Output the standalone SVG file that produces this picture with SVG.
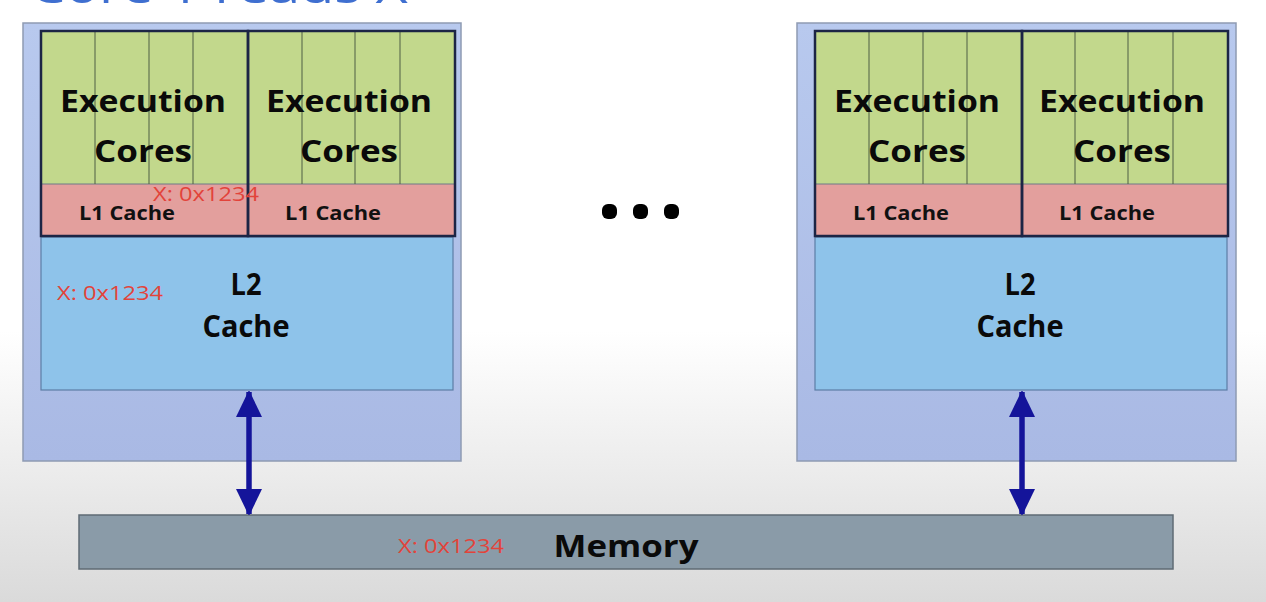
<svg xmlns="http://www.w3.org/2000/svg" width="1266" height="602" viewBox="0 0 1266 602">
<defs>
<linearGradient id="bg" x1="0" y1="0" x2="0" y2="1">
<stop offset="0" stop-color="#ffffff"/>
<stop offset="0.55" stop-color="#ffffff"/>
<stop offset="1" stop-color="#dadada"/>
</linearGradient>
<linearGradient id="chip" x1="0" y1="0" x2="0" y2="1">
<stop offset="0" stop-color="#b8c9ee"/>
<stop offset="1" stop-color="#a9b9e4"/>
</linearGradient>
<marker id="ah" viewBox="0 0 26 27" refX="25" refY="13" markerWidth="26" markerHeight="27" markerUnits="userSpaceOnUse" orient="auto-start-reverse">
<path d="M0,0 L27,13 L0,26 Z" fill="#14149a"/>
</marker>
<style>
.chip{fill:url(#chip);stroke:#8e9bb3;stroke-width:1.5}
.green{fill:#c2d88c}
.red{fill:#e39f9d}
.l2{fill:#8ec3ea;stroke:#5c7ea6;stroke-width:1.2}
.core{fill:none;stroke:#1c2545;stroke-width:2.5}
.thin{stroke:#4e5e44;stroke-width:1}
.sep{stroke:#6f7a88;stroke-width:1}
.big{font-family:'Open Sans','Liberation Sans',sans-serif;font-weight:bold;font-size:30px;fill:#0a0a0a;text-anchor:middle}
.l1t{font-family:'Open Sans','Liberation Sans',sans-serif;font-weight:bold;font-size:20px;fill:#111;text-anchor:middle}
.x{font-family:'Open Sans','Liberation Sans',sans-serif;font-size:20px;fill:#e2433a}
.conn{stroke:#14149a;stroke-width:5.5;fill:none}
.dot{fill:#000}
</style>
</defs>
<rect x="0" y="0" width="1266" height="602" fill="url(#bg)"/>
<text x="30" y="3" font-family="'Open Sans','Liberation Sans',sans-serif" font-size="44" fill="#3f6fd0" textLength="378" lengthAdjust="spacingAndGlyphs">Core 1 reads X</text>

<g id="chip1">
<rect class="chip" x="23" y="23" width="438" height="438"/>
<rect class="green" x="41" y="31" width="414" height="153"/>
<rect class="red" x="41" y="184" width="414" height="53"/>
<line class="sep" x1="41" y1="184" x2="455" y2="184"/>
<line class="thin" x1="95" y1="31" x2="95" y2="184"/>
<line class="thin" x1="149" y1="31" x2="149" y2="184"/>
<line class="thin" x1="193" y1="31" x2="193" y2="184"/>
<line class="thin" x1="302" y1="31" x2="302" y2="184"/>
<line class="thin" x1="355" y1="31" x2="355" y2="184"/>
<line class="thin" x1="400" y1="31" x2="400" y2="184"/>
<rect class="l2" x="41" y="237" width="412" height="153"/>
<rect class="core" x="41" y="31" width="207" height="205"/>
<rect class="core" x="248" y="31" width="207" height="205"/>
<text class="big" x="143" y="112" textLength="166" lengthAdjust="spacingAndGlyphs">Execution</text>
<text class="big" x="143" y="162" textLength="98" lengthAdjust="spacingAndGlyphs">Cores</text>
<text class="big" x="349" y="112" textLength="166" lengthAdjust="spacingAndGlyphs">Execution</text>
<text class="big" x="349" y="162" textLength="98" lengthAdjust="spacingAndGlyphs">Cores</text>
<text class="l1t" x="127" y="220" textLength="96" lengthAdjust="spacingAndGlyphs">L1 Cache</text>
<text class="l1t" x="333" y="220" textLength="96" lengthAdjust="spacingAndGlyphs">L1 Cache</text>
<text class="x" x="153" y="201" textLength="106" lengthAdjust="spacingAndGlyphs">X: 0x1234</text>
<text class="big" x="246" y="295" textLength="31" lengthAdjust="spacingAndGlyphs">L2</text>
<text class="big" x="246" y="337" textLength="87" lengthAdjust="spacingAndGlyphs">Cache</text>
<text class="x" x="57" y="300" textLength="106" lengthAdjust="spacingAndGlyphs">X: 0x1234</text>
</g>

<g id="chip2">
<rect class="chip" x="797" y="23" width="439" height="438"/>
<rect class="green" x="815" y="31" width="413" height="153"/>
<rect class="red" x="815" y="184" width="413" height="53"/>
<line class="sep" x1="815" y1="184" x2="1228" y2="184"/>
<line class="thin" x1="869" y1="31" x2="869" y2="184"/>
<line class="thin" x1="923" y1="31" x2="923" y2="184"/>
<line class="thin" x1="967" y1="31" x2="967" y2="184"/>
<line class="thin" x1="1075" y1="31" x2="1075" y2="184"/>
<line class="thin" x1="1128" y1="31" x2="1128" y2="184"/>
<line class="thin" x1="1173" y1="31" x2="1173" y2="184"/>
<rect class="l2" x="815" y="237" width="412" height="153"/>
<rect class="core" x="815" y="31" width="207" height="205"/>
<rect class="core" x="1022" y="31" width="206" height="205"/>
<text class="big" x="917" y="112" textLength="166" lengthAdjust="spacingAndGlyphs">Execution</text>
<text class="big" x="917" y="162" textLength="98" lengthAdjust="spacingAndGlyphs">Cores</text>
<text class="big" x="1122" y="112" textLength="166" lengthAdjust="spacingAndGlyphs">Execution</text>
<text class="big" x="1122" y="162" textLength="98" lengthAdjust="spacingAndGlyphs">Cores</text>
<text class="l1t" x="901" y="220" textLength="96" lengthAdjust="spacingAndGlyphs">L1 Cache</text>
<text class="l1t" x="1107" y="220" textLength="96" lengthAdjust="spacingAndGlyphs">L1 Cache</text>
<text class="big" x="1020" y="295" textLength="31" lengthAdjust="spacingAndGlyphs">L2</text>
<text class="big" x="1020" y="337" textLength="87" lengthAdjust="spacingAndGlyphs">Cache</text>
</g>

<g id="ellipsis">
<rect class="dot" x="602" y="204" width="15" height="15" rx="6"/>
<rect class="dot" x="633" y="204" width="15" height="15" rx="6"/>
<rect class="dot" x="664" y="204" width="15" height="15" rx="6"/>
</g>

<g id="memory">
<rect x="79" y="515" width="1094" height="54" fill="#8a9ba8" stroke="#5f6b74" stroke-width="1.5"/>
<text class="big" x="626" y="557" font-size="34" textLength="145" lengthAdjust="spacingAndGlyphs">Memory</text>
<text class="x" x="398" y="553" textLength="106" lengthAdjust="spacingAndGlyphs">X: 0x1234</text>
</g>

<g id="connectors">
<line class="conn" x1="249" y1="392" x2="249" y2="514" marker-start="url(#ah)" marker-end="url(#ah)"/>
<line class="conn" x1="1022" y1="392" x2="1022" y2="514" marker-start="url(#ah)" marker-end="url(#ah)"/>
</g>
</svg>
